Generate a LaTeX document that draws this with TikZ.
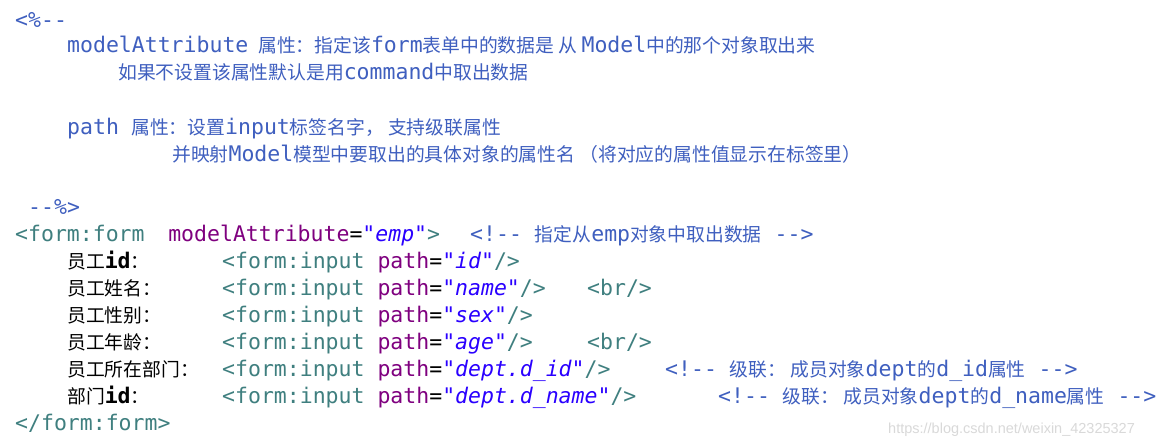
\documentclass[tikz,border=0pt]{standalone}
\usepackage{fontspec}
\setmonofont{DejaVu Sans Mono}
\newfontfamily\zhf{Noto Sans CJK SC}
\newfontfamily\wmf{Liberation Sans}
\definecolor{cmt}{HTML}{3F5FBF}
\definecolor{tag}{HTML}{3F7F7F}
\definecolor{att}{HTML}{7F007F}
\definecolor{val}{HTML}{2A00FF}
\newcommand{\zh}[1]{{\zhf\fontsize{18.8}{20}\selectfont #1}}
\newcommand{\tg}[1]{\textcolor{tag}{#1}}
\newcommand{\at}[1]{\textcolor{att}{#1}}
\newcommand{\vl}[1]{\textcolor{val}{\itshape "#1"}}
\begin{document}
\begin{tikzpicture}[x=1pt,y=-1pt,
  t/.style={anchor=base west,inner sep=0pt,font=\ttfamily\fontsize{21.5}{24}\selectfont},
  c/.style={t,text=cmt}]
\useasboundingbox[fill=white] (0,0) rectangle (1170,445);
\node[c] (l1) at (15,27) {<\%-{}-};
\node[c] (l2a) at (67,52) {modelAttribute};
\node[c] (l2b) at (258,52) {\zh{属性：指定该}form\zh{表单中的数据是 从 }Model\zh{中的那个对象取出来}};
\node[c] (l3) at (118,79) {\zh{如果不设置该属性默认是用}command\zh{中取出数据}};
\node[c] (l4a) at (67,134) {path};
\node[c] (l4b) at (131,134) {\zh{属性：设置}input\zh{标签名字， 支持级联属性}};
\node[c] (l5) at (172,161) {\zh{并映射}Model\zh{模型中要取出的具体对象的属性名 （将对应的属性值显示在标签里）}};
\node[c] (l6) at (28,214) {-{}-\%>};
\node[t] (l7) at (15,241) {\tg{<form:form}\hspace{1.1em}\at{modelAttribute}=\vl{emp}\tg{>}};
\node[c] (l7c) at (470,241) {<!-{}- \zh{指定从}emp\zh{对象中取出数据} -{}->};
\node[t] (r1a) at (67,268) {\zh{员工}\textbf{id}\zh{：}};
\node[t] (r1b) at (222,268) {\tg{<form:input} \at{path}=\vl{id}\tg{/>}};
\node[t] (r2a) at (67,295) {\zh{员工姓名：}};
\node[t] (r2b) at (222,295) {\tg{<form:input} \at{path}=\vl{name}\tg{/>}};
\node[t] (r2c) at (587,295) {\tg{<br/>}};
\node[t] (r3a) at (67,322) {\zh{员工性别：}};
\node[t] (r3b) at (222,322) {\tg{<form:input} \at{path}=\vl{sex}\tg{/>}};
\node[t] (r4a) at (67,349) {\zh{员工年龄：}};
\node[t] (r4b) at (222,349) {\tg{<form:input} \at{path}=\vl{age}\tg{/>}};
\node[t] (r4c) at (587,349) {\tg{<br/>}};
\node[t] (r5a) at (67,376) {\zh{员工所在部门：}};
\node[t] (r5b) at (222,376) {\tg{<form:input} \at{path}=\vl{dept.d\_id}\tg{/>}};
\node[c] (r5c) at (665,376) {<!-{}- \zh{级联： 成员对象}dept\zh{的}d\_id\zh{属性} -{}->};
\node[t] (r6a) at (67,403) {\zh{部门}\textbf{id}\zh{：}};
\node[t] (r6b) at (222,403) {\tg{<form:input} \at{path}=\vl{dept.d\_name}\tg{/>}};
\node[c] (r6c) at (718,403) {<!-{}- \zh{级联： 成员对象}dept\zh{的}d\_name\zh{属性} -{}->};
\node[t] (l14) at (15,430) {\tg{</form:form>}};
\node[anchor=base west,inner sep=0pt,text=black!15,font=\wmf\fontsize{14.5}{17}\selectfont] (wm) at (888,433) {https://blog.csdn.net/weixin\_42325327};
\end{tikzpicture}
\end{document}
